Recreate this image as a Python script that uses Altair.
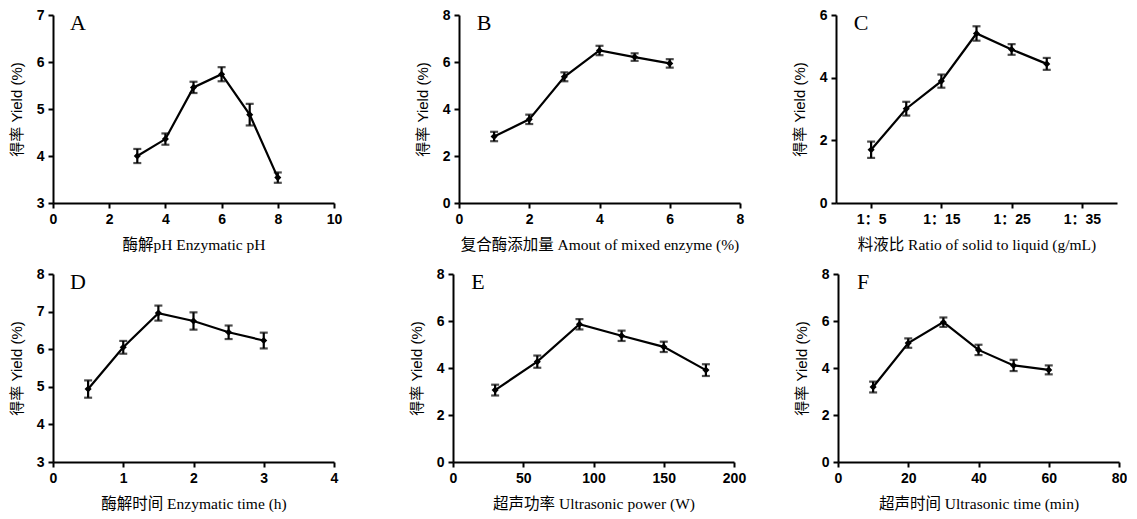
import altair as alt
import pandas as pd

# ---- data ----
a_x = [3, 4, 5, 6, 7, 8]
a_y = [4.00, 4.36, 5.46, 5.74, 4.88, 3.54]
a_e = [0.15, 0.12, 0.12, 0.15, 0.23, 0.11]

b_x = [1, 2, 3, 4, 5, 6]
b_y = [2.83, 3.56, 5.37, 6.49, 6.21, 5.94]
b_e = [0.20, 0.20, 0.19, 0.20, 0.16, 0.18]

c_x = [5, 10, 15, 20, 25, 30]
c_y = [1.70, 3.01, 3.89, 5.41, 4.90, 4.44]
c_e = [0.26, 0.22, 0.21, 0.23, 0.17, 0.19]

d_x = [0.5, 1.0, 1.5, 2.0, 2.5, 3.0]
d_y = [4.94, 6.05, 6.96, 6.75, 6.45, 6.23]
d_e = [0.23, 0.17, 0.20, 0.23, 0.18, 0.21]

e_x = [30, 60, 90, 120, 150, 180]
e_y = [3.06, 4.27, 5.86, 5.37, 4.90, 3.91]
e_e = [0.23, 0.26, 0.22, 0.22, 0.22, 0.25]

f_x = [10, 20, 30, 40, 50, 60]
f_y = [3.19, 5.06, 5.95, 4.77, 4.11, 3.92]
f_e = [0.23, 0.20, 0.20, 0.22, 0.24, 0.19]

Y_TITLE = "得率 Yield (%)"
SANS = "Liberation Sans, Noto Sans CJK SC"
SERIF = "Liberation Serif, Noto Sans CJK SC"

W, H = 281, 188


def panel(xs, ys, es, xdom, xticks, ydom, yticks, xtitle, letter, label_expr=None):
    df = pd.DataFrame({
        "x": xs,
        "y": ys,
        "lo": [y - e for y, e in zip(ys, es)],
        "hi": [y + e for y, e in zip(ys, es)],
    })
    xaxis_kw = dict(values=xticks, title=xtitle, labelFlush=False, labelOverlap=False)
    if label_expr:
        xaxis_kw["labelExpr"] = label_expr
    xscale = alt.Scale(domain=xdom, nice=False, zero=False)
    yscale = alt.Scale(domain=ydom, nice=False, zero=False)
    X = alt.X("x:Q", scale=xscale, axis=alt.Axis(**xaxis_kw))
    yaxis = alt.Axis(values=yticks, title=Y_TITLE)
    Y = alt.Y("y:Q", scale=yscale, axis=yaxis)
    base = alt.Chart(df)
    line = base.mark_line(color="black", strokeWidth=2.2).encode(x=X, y=Y)
    pts = base.mark_point(filled=True, shape="diamond", size=50, color="black",
                          opacity=1).encode(x=X, y=Y)
    err = base.mark_errorbar(
        color="black",
        thickness=2.2,
        ticks={"size": 8, "thickness": 2.2, "color": "black"},
    ).encode(
        x=X,
        y=alt.Y("lo:Q", scale=yscale, axis=yaxis, title=Y_TITLE),
        y2="hi:Q",
    )
    lab = alt.Chart(pd.DataFrame({"t": [letter]})).mark_text(
        font="Liberation Serif", fontSize=22, color="black", align="center",
        baseline="middle"
    ).encode(text="t:N", x=alt.value(25), y=alt.value(8))
    return alt.layer(line, err, pts, lab).properties(width=W, height=H)


pA = panel(a_x, a_y, a_e, [0, 10], [0, 2, 4, 6, 8, 10], [3, 7], [3, 4, 5, 6, 7],
           "酶解pH  Enzymatic pH", "A")
pB = panel(b_x, b_y, b_e, [0, 8], [0, 2, 4, 6, 8], [0, 8], [0, 2, 4, 6, 8],
           "复合酶添加量 Amout of mixed enzyme (%)", "B")
pC = panel(c_x, c_y, c_e, [0, 40], [5, 15, 25, 35], [0, 6], [0, 2, 4, 6],
           "料液比 Ratio of solid to liquid (g/mL)", "C",
           label_expr="'1：' + datum.value")
pD = panel(d_x, d_y, d_e, [0, 4], [0, 1, 2, 3, 4], [3, 8], [3, 4, 5, 6, 7, 8],
           "酶解时间 Enzymatic time (h)", "D")
pE = panel(e_x, e_y, e_e, [0, 200], [0, 50, 100, 150, 200], [0, 8], [0, 2, 4, 6, 8],
           "超声功率 Ultrasonic power (W)", "E")
pF = panel(f_x, f_y, f_e, [0, 80], [0, 20, 40, 60, 80], [0, 8], [0, 2, 4, 6, 8],
           "超声时间 Ultrasonic time (min)", "F")

row1 = alt.hconcat(alt.hconcat(pA, pB, spacing=73), pC, spacing=48)
row2 = alt.hconcat(alt.hconcat(pD, pE, spacing=71), pF, spacing=48)

chart = alt.vconcat(row1, row2, spacing=14).properties(
    padding={"left": 1, "top": 0, "right": 0, "bottom": 0}
).configure_view(stroke=None).configure_axis(
    grid=False,
    domainColor="black",
    domainWidth=2,
    tickColor="black",
    tickWidth=2,
    tickSize=5,
    labelFont=SANS,
    labelFontWeight="bold",
    labelFontSize=14,
    labelColor="black",
    labelPadding=4,
    titleColor="black",
    titleFontWeight="normal",
).configure_axisX(
    titleFont=SERIF,
    titleFontSize=15.5,
    titlePadding=11,
).configure_axisY(
    titleFont=SANS,
    titleFontSize=15,
    titlePadding=10,
    minExtent=19,
    maxExtent=19,
)

chart.save("out.html", embed_options={"renderer": "svg", "actions": False})
